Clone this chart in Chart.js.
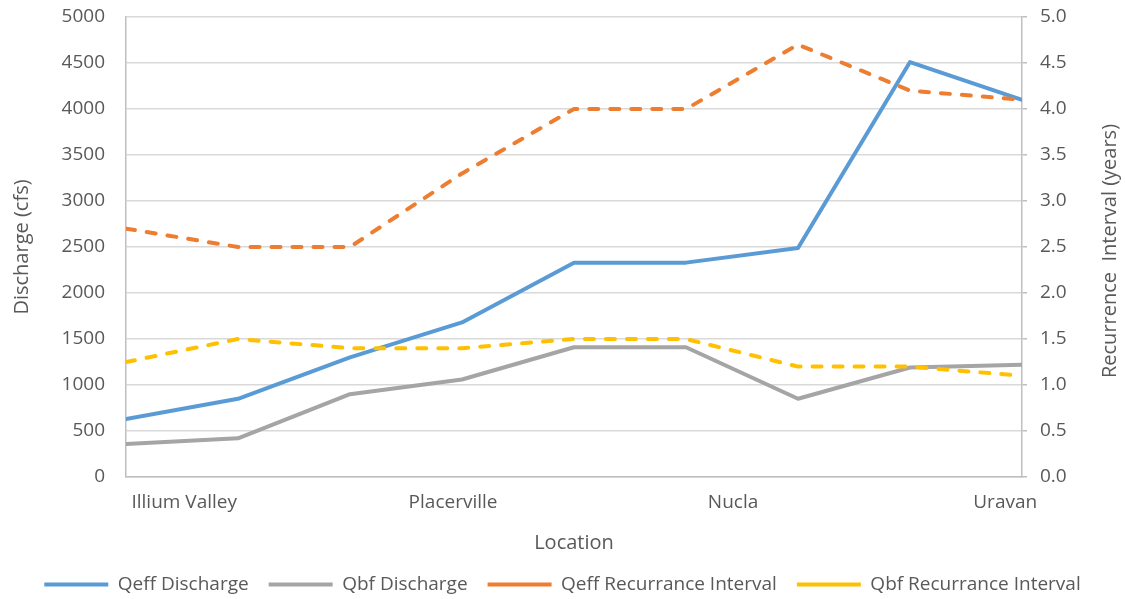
<!DOCTYPE html>
<html>
<head>
<meta charset="utf-8">
<script src="https://cdn.jsdelivr.net/npm/chart.js@4.4.1/dist/chart.umd.min.js"></script>
<style>
  html, body { margin: 0; padding: 0; background: #ffffff; }
  #wrap { width: 1125px; height: 599px; position: relative; }
</style>
</head>
<body>
<div id="wrap"><canvas id="chart"></canvas></div>
<script>
// Gauging sites along the river (labelled stations) and the measured series
const locations = ['Illium Valley', 'Placerville', 'Nucla', 'Uravan'];
const stationIndex = [0, 1, 2, 3, 4, 5, 6, 7, 8];

const qeffDischarge   = [630, 850, 1300, 1680, 2330, 2330, 2490, 4510, 4100];
const qbfDischarge    = [360, 420, 900, 1060, 1410, 1410, 850, 1190, 1220];
const qeffRecurrence  = [2.7, 2.5, 2.5, 3.3, 4.0, 4.0, 4.7, 4.2, 4.1];
const qbfRecurrence   = [1.25, 1.5, 1.4, 1.4, 1.5, 1.5, 1.2, 1.2, 1.1];

const dischargeTicks  = [0, 500, 1000, 1500, 2000, 2500, 3000, 3500, 4000, 4500, 5000];
const recurrenceTicks = [0.0, 0.5, 1.0, 1.5, 2.0, 2.5, 3.0, 3.5, 4.0, 4.5, 5.0];

const FONT = "'Open Sans', 'Liberation Sans', sans-serif";
const TEXT = '#595959';
const AXIS = '#BFBFBF';
const GRID = '#D9D9D9';

const toPoints = vals => vals.map((v, i) => ({ x: stationIndex[i], y: v }));

// where along the station axis each location name sits
const locationAnchors = [0.52, 2.92, 5.42, 7.85];

// right-hand title reads bottom-to-top, so it is painted here
const rightTitle = {
  id: 'rightTitle',
  afterDraw(chart) {
    const ctx = chart.ctx;
    const cy = (chart.chartArea.top + chart.chartArea.bottom) / 2 + 4;
    ctx.save();
    ctx.translate(1110, cy);
    ctx.rotate(-Math.PI / 2);
    ctx.font = "20px " + FONT;
    ctx.fillStyle = TEXT;
    ctx.textAlign = 'center';
    ctx.textBaseline = 'middle';
    ctx.fillText('Recurrence  Interval (years)', 0, 0);
    ctx.restore();
  }
};

// fixed side widths; keep the vertical label overhang small so the plot reaches the top
const fixSide = width => s => { s.width = width; s.paddingTop = 10; s.paddingBottom = 10; };

const dashed = [9, 12];

new Chart(document.getElementById('chart'), {
  type: 'line',
  data: {
    datasets: [
      { label: 'Qeff Discharge', data: toPoints(qeffDischarge), yAxisID: 'yQ',
        borderColor: '#5B9BD5', backgroundColor: '#5B9BD5', borderWidth: 4, order: 3,
        borderCapStyle: 'round', borderJoinStyle: 'round' },
      { label: 'Qbf Discharge', data: toPoints(qbfDischarge), yAxisID: 'yQ',
        borderColor: '#A5A5A5', backgroundColor: '#A5A5A5', borderWidth: 4, order: 2,
        borderCapStyle: 'round', borderJoinStyle: 'round' },
      { label: 'Qeff Recurrance Interval', data: toPoints(qeffRecurrence), yAxisID: 'yRI',
        borderColor: '#ED7D31', backgroundColor: '#ED7D31', borderWidth: 4, order: 1,
        borderDash: dashed, borderCapStyle: 'round', borderJoinStyle: 'round' },
      { label: 'Qbf Recurrance Interval', data: toPoints(qbfRecurrence), yAxisID: 'yRI',
        borderColor: '#FFC000', backgroundColor: '#FFC000', borderWidth: 4, order: 0,
        borderDash: dashed, borderCapStyle: 'round', borderJoinStyle: 'round' }
    ]
  },
  options: {
    responsive: true,
    maintainAspectRatio: false,
    animation: false,
    devicePixelRatio: 1,
    layout: { padding: { top: 17, left: 0, right: 0, bottom: -5 } },
    elements: { point: { radius: 0, hoverRadius: 0 }, line: { tension: 0 } },
    plugins: {
      tooltip: { enabled: false },
      legend: {
        position: 'bottom',
        labels: {
          usePointStyle: true,
          pointStyle: 'line',
          pointStyleWidth: 64,
          padding: 20,
          color: TEXT,
          font: { family: FONT, size: 19 },
          sort: (a, b) => a.datasetIndex - b.datasetIndex
        }
      }
    },
    scales: {
      x: {
        type: 'linear',
        min: 0,
        max: 8,
        afterBuildTicks: s => { s.ticks = locationAnchors.map(v => ({ value: v })); },
        afterFit: s => { s.height = 78; },
        grid: { display: false, drawTicks: false },
        border: { display: true, color: AXIS, width: 1.5 },
        ticks: {
          autoSkip: false, maxRotation: 0, padding: 14, color: TEXT,
          font: { family: FONT, size: 19 },
          callback: (v, i) => locations[i]
        },
        title: { display: true, text: 'Location', color: TEXT,
                 font: { family: FONT, size: 20 }, padding: { top: 0, bottom: 0 } }
      },
      yQ: {
        position: 'left',
        min: 0,
        max: 5000,
        afterBuildTicks: s => { s.ticks = dischargeTicks.map(v => ({ value: v })); },
        afterFit: fixSide(126),
        grid: { color: GRID, lineWidth: 1.5, drawTicks: false },
        border: { display: true, color: AXIS, width: 1.5 },
        ticks: { padding: 21, color: TEXT, font: { family: FONT, size: 19 },
                 callback: v => String(v) },
        title: { display: true, text: 'Discharge (cfs)', color: TEXT,
                 font: { family: FONT, size: 20 }, padding: { top: 10, bottom: 0 } }
      },
      yRI: {
        position: 'right',
        min: 0,
        max: 5,
        afterBuildTicks: s => { s.ticks = recurrenceTicks.map(v => ({ value: v })); },
        afterFit: fixSide(103),
        grid: { drawOnChartArea: false, drawTicks: true, tickLength: 5, color: AXIS, lineWidth: 1.5 },
        border: { display: true, color: AXIS, width: 1.5 },
        ticks: { padding: 13, color: TEXT, font: { family: FONT, size: 19 },
                 callback: v => Number(v).toFixed(1) },
        title: { display: false }
      }
    }
  },
  plugins: [rightTitle]
});
</script>
</body>
</html>
